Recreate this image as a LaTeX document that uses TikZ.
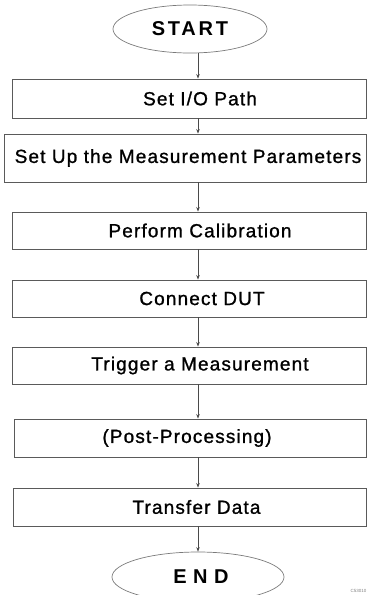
\documentclass[tikz,border=0pt]{standalone}
\usepackage{fontspec}
\setmainfont{Liberation Sans}
\newfontfamily\boxfont[LetterSpace=6,FakeBold=1.1]{Liberation Sans}
\newfontfamily\startfont[LetterSpace=14]{Liberation Sans}
\newfontfamily\endfont[LetterSpace=32]{Liberation Sans}
\usetikzlibrary{shapes.geometric,arrows.meta}
\definecolor{boxline}{HTML}{5A5A5A}
\definecolor{ellline}{HTML}{7A7A7A}
\definecolor{arrline}{HTML}{4A4A4A}
\tikzset{
  stepbox/.style={draw=boxline, line width=0.9pt, rectangle, inner sep=0pt},
  term/.style={draw=ellline, line width=0.7pt, ellipse, inner sep=0pt},
  boxtext/.style={font=\boxfont\fontsize{19}{22}\selectfont},
  arr/.style={draw=arrline, line width=0.7pt, -{Stealth[length=4.5pt,width=3.5pt]}},
}
\begin{document}
\begin{tikzpicture}[x=1pt,y=-1pt]
\useasboundingbox (0,0) rectangle (367,595);
\clip (0,0) rectangle (367,595);
\coordinate (ax) at (198,0);
\node[term, minimum width=154pt, minimum height=48pt,
  font=\startfont\bfseries\fontsize{20}{22}\selectfont] (start) at (190,29) {START};
\node[stepbox, minimum width=354pt, minimum height=39pt,
  label={[boxtext, xshift=11pt]center:Set I/O Path}] (b1) at (189,98.5) {};
\node[stepbox, minimum width=362pt, minimum height=48pt,
  label={[boxtext, xshift=3pt]center:Set Up the Measurement Parameters}] (b2) at (185,158) {};
\node[stepbox, minimum width=354pt, minimum height=37pt,
  label={[boxtext, xshift=11pt]center:Perform Calibration}] (b3) at (189,230.5) {};
\node[stepbox, minimum width=354pt, minimum height=37pt,
  label={[boxtext, xshift=13pt]center:Connect DUT}] (b4) at (189,298.5) {};
\node[stepbox, minimum width=354pt, minimum height=37pt,
  label={[boxtext, xshift=11pt]center:Trigger a Measurement}] (b5) at (189,365.5) {};
\node[stepbox, minimum width=352pt, minimum height=38pt,
  label={[boxtext, xshift=-3pt]center:(Post-Processing)}] (b6) at (190,438) {};
\node[stepbox, minimum width=353pt, minimum height=38pt,
  label={[boxtext, xshift=7pt]center:Transfer Data}] (b7) at (189.5,507) {};
\node[term, minimum width=172pt, minimum height=50pt,
  font=\endfont\bfseries\fontsize{20}{22}\selectfont] (end) at (198,577) {\hspace*{6pt}END};
\node[anchor=east, inner sep=0pt, text=gray, font=\fontsize{4.5}{5}\selectfont] (id) at (366.5,591) {C53010};
\draw[arr] (start.south -| ax) -- (b1.north -| ax);
\draw[arr] (b1.south -| ax) -- (b2.north -| ax);
\draw[arr] (b2.south -| ax) -- (b3.north -| ax);
\draw[arr] (b3.south -| ax) -- (b4.north -| ax);
\draw[arr] (b4.south -| ax) -- (b5.north -| ax);
\draw[arr] (b5.south -| ax) -- (b6.north -| ax);
\draw[arr] (b6.south -| ax) -- (b7.north -| ax);
\draw[arr] (b7.south -| ax) -- (end.north -| ax);
\end{tikzpicture}
\end{document}
